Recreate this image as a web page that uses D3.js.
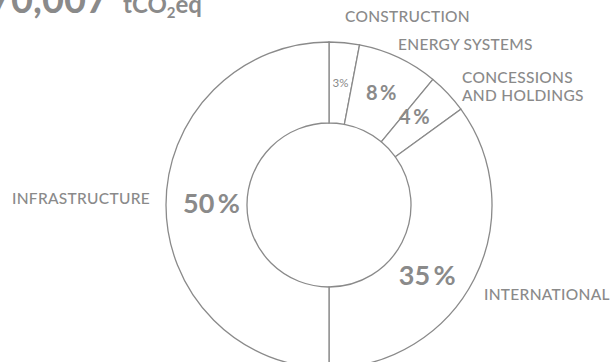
<!DOCTYPE html>
<html>
<head>
<meta charset="utf-8">
<script src="https://cdn.jsdelivr.net/npm/d3@7/dist/d3.min.js"></script>
<style>
  html, body { margin: 0; padding: 0; background: #fff; }
  svg { display: block; }
  text { font-family: Lato, "Open Sans", sans-serif; fill: #8a8a8a; }
</style>
</head>
<body>
<svg id="chart" width="611" height="362"></svg>
<script>
// ---- data ----
const categories = ["CONSTRUCTION", "ENERGY SYSTEMS", "CONCESSIONS AND HOLDINGS", "INTERNATIONAL", "INFRASTRUCTURE"];
const shares = [3, 8, 4, 35, 50];
const shareLabels = ["3%", "8\u2009%", "4\u2009%", "35\u2009%", "50\u2009%"];
const totalValue = "70,007";
const totalUnit = ["tCO", "2", "eq"];

// ---- layout ----
const cx = 329, cy = 205, rOuter = 163, rInner = 82;
const stroke = "#8a8a8a";

const svg = d3.select("#chart");

// title
svg.append("text")
  .attr("x", 108).attr("y", 13)
  .attr("text-anchor", "end")
  .style("font-size", "38px").style("font-weight", 700)
  .text(totalValue);
const unit = svg.append("text")
  .attr("x", 123).attr("y", 13)
  .style("font-size", "24px").style("font-weight", 700);
unit.append("tspan").text(totalUnit[0]);
unit.append("tspan").attr("dy", 5).style("font-size", "15px").text(totalUnit[1]);
unit.append("tspan").attr("dy", -5).text(totalUnit[2]);

// donut
const pie = d3.pie().sort(null).value(d => d)(shares);
const arc = d3.arc().innerRadius(rInner).outerRadius(rOuter);
const g = svg.append("g").attr("transform", `translate(${cx},${cy})`);

g.selectAll("path.slice")
  .data(pie)
  .join("path")
  .attr("class", "slice")
  .attr("d", arc)
  .attr("fill", "#fff")
  .attr("stroke", stroke)
  .attr("stroke-width", 1.3);

// percent labels (centroid + tweak offsets)
const pctStyle = [
  { size: 11.5, weight: 400, dx: 0, dy: -1 },
  { size: 20, weight: 700, dx: 0, dy: -2 },
  { size: 20, weight: 700, dx: -4, dy: -5 },
  { size: 27, weight: 700, dx: -11, dy: 14 },
  { size: 27, weight: 700, dx: 5, dy: -3 }
];
g.selectAll("text.pct")
  .data(pie)
  .join("text")
  .attr("class", "pct")
  .attr("x", (d, i) => arc.centroid(d)[0] + pctStyle[i].dx)
  .attr("y", (d, i) => arc.centroid(d)[1] + pctStyle[i].dy)
  .attr("text-anchor", "middle")
  .attr("dominant-baseline", "central")
  .style("font-size", (d, i) => pctStyle[i].size + "px")
  .style("font-weight", (d, i) => pctStyle[i].weight)
  .text((d, i) => shareLabels[i]);

// category labels
const catPos = [
  { x: 345, y: 22, lines: ["CONSTRUCTION"] },
  { x: 398, y: 50, lines: ["ENERGY SYSTEMS"] },
  { x: 462, y: 83, lines: ["CONCESSIONS", "AND HOLDINGS"] },
  { x: 484, y: 300, lines: ["INTERNATIONAL"] },
  { x: 12, y: 204, lines: ["INFRASTRUCTURE"] }
];
categories.forEach((c, i) => {
  const p = catPos[i];
  const t = svg.append("text")
    .attr("x", p.x).attr("y", p.y)
    .style("font-size", "15.5px").style("font-weight", 500)
    .style("letter-spacing", "0.3px");
  p.lines.forEach((ln, j) => {
    t.append("tspan").attr("x", p.x).attr("dy", j === 0 ? 0 : 18).text(ln);
  });
});
</script>
</body>
</html>
